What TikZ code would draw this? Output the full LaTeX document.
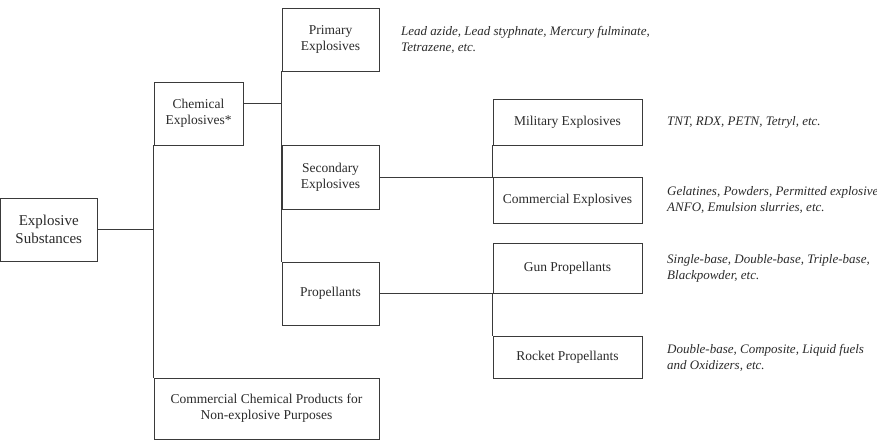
\documentclass[tikz,border=0pt]{standalone}
\usepackage{fontspec}
\setmainfont{Liberation Serif}
\usetikzlibrary{calc}
\definecolor{ln}{HTML}{3A3A3A}
\definecolor{tx}{HTML}{2A2A2A}
\begin{document}
\begin{tikzpicture}[x=1pt,y=-1pt,
  box/.style={draw=ln, line width=0.9pt, text=tx, align=center, inner sep=0pt,
    font=\fontsize{13.5}{16}\selectfont},
  note/.style={anchor=west, align=left, text=tx, inner sep=0pt,
    font=\fontsize{13}{16}\selectfont\itshape},
  conn/.style={draw=ln, line width=0.9pt}]
\useasboundingbox (0,0) rectangle (877,442);

\node[box, font=\fontsize{15}{17.5}\selectfont, minimum width=96.5pt, minimum height=63pt] (ES) at (48.75,229.5) {Explosive\\Substances};
\node[box, minimum width=89pt, minimum height=63pt] (CE) at (198.5,113.5) {Chemical\\Explosives*};
\node[box, minimum width=97pt, minimum height=63pt] (PE) at (330.5,39.5) {Primary\\Explosives};
\node[box, minimum width=97pt, minimum height=64pt] (SE) at (330.5,177) {Secondary\\Explosives};
\node[box, minimum width=97pt, minimum height=63pt] (PR) at (330.5,293.5) {Propellants};
\node[box, minimum width=225pt, minimum height=61pt] (CC) at (266.5,408.5) {Commercial Chemical Products for\\Non-explosive Purposes};
\node[box, minimum width=149pt, minimum height=46pt] (ME) at (567.5,122) {Military Explosives};
\node[box, minimum width=149pt, minimum height=46pt] (CX) at (567.5,200) {Commercial Explosives};
\node[box, minimum width=149pt, minimum height=50pt] (GP) at (567.5,268) {Gun Propellants};
\node[box, minimum width=149pt, minimum height=42pt] (RP) at (567.5,357) {Rocket Propellants};

\node[note] (nPE) at (401,40) {Lead azide, Lead styphnate, Mercury fulminate,\\Tetrazene, etc.};
\node[note] (nME) at (667,122) {TNT, RDX, PETN, Tetryl, etc.};
\node[note] (nCX) at (667,200) {Gelatines, Powders, Permitted explosives,\\ANFO, Emulsion slurries, etc.};
\node[note] (nGP) at (667,268) {Single-base, Double-base, Triple-base,\\Blackpowder, etc.};
\node[note] (nRP) at (667,358) {Double-base, Composite, Liquid fuels\\and Oxidizers, etc.};

\coordinate (ceo) at ($(CE.north east)!0.35!(CE.south east)$);
\draw[conn] (ES.east) -- (ES.east -| CE.west);
\draw[conn] (CE.south west) -- (CC.north west);
\draw[conn] (ceo) -- (ceo -| PE.west);
\draw[conn] (PE.south west) -- (PR.north west);
\draw[conn] (SE.east) -- (SE.east -| CX.west);
\draw[conn] (ME.south west) -- (CX.north west);
\draw[conn] (PR.east) -- (PR.east -| GP.west);
\draw[conn] (GP.south west) -- (RP.north west);
\end{tikzpicture}
\end{document}
